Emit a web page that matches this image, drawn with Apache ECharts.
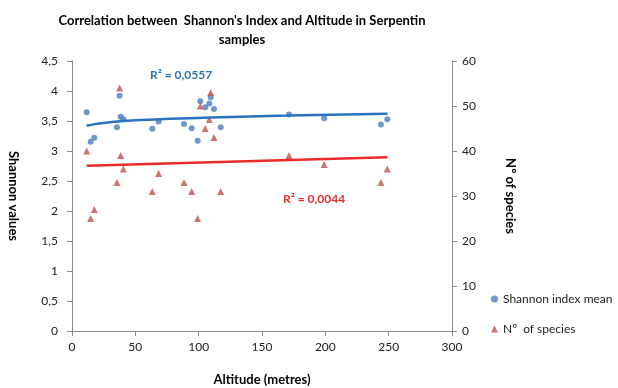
<!DOCTYPE html>
<html>
<head>
<meta charset="utf-8">
<script src="https://cdn.jsdelivr.net/npm/echarts@6/dist/echarts.min.js"></script>
<style>
  html, body { margin: 0; padding: 0; background: #fff; }
  #chart { width: 618px; height: 388px; }
</style>
</head>
<body>
<div id="chart"></div>
<script>
// altitude (m) of each sample
var altitude = [11.6, 14.7, 17.6, 35.5, 37.6, 38.4, 40.5, 63.4, 68.4, 88.4, 94.5, 99.2,
    101.3, 105.2, 108.4, 109.5, 112.1, 117.4, 171.3, 199.1, 243.9, 248.9];
// Shannon index mean (left axis)
var shannon = [3.645, 3.155, 3.22, 3.395, 3.92, 3.57, 3.53, 3.37, 3.49, 3.45, 3.38, 3.17,
    3.83, 3.73, 3.79, 3.895, 3.70, 3.395, 3.61, 3.545, 3.44, 3.53];
// Nº of species (right axis)
var species = [40, 25, 27, 33, 54, 39, 36, 31, 35, 33, 31, 25,
    50, 45, 47, 53, 43, 31, 39, 37, 33, 36];

// trend lines
var shannonTrendX = [11.6, 20, 40, 70, 110, 170, 249];
var shannonTrendY = [3.42, 3.455, 3.50, 3.53, 3.56, 3.59, 3.62];
var speciesTrendX = [11.6, 249];
var speciesTrendY = [36.7, 38.6];

var r2Shannon = 'R² = 0,0557';
var r2Species = 'R² = 0,0044';

var zip = function (xs, ys) {
    return xs.map(function (x, i) { return [x, ys[i]]; });
};

var font = 'Lato';
var comma = function (v) { return String(v).replace('.', ','); };

var chart = echarts.init(document.getElementById('chart'));

var option = {
    animation: false,
    textStyle: { fontFamily: font },
    title: {
        text: "Correlation between  Shannon's Index and Altitude in Serpentin\nsamples",
        left: 237,
        top: 6,
        textAlign: 'center',
        textStyle: { fontFamily: font, fontSize: 13, fontWeight: 'bold', color: '#000', lineHeight: 19 }
    },
    legend: {
        data: [
            { name: 'Shannon index mean', icon: 'circle' },
            { name: 'Nº  of species', icon: 'triangle' }
        ],
        orient: 'vertical',
        left: 486,
        top: 288,
        itemWidth: 7,
        itemHeight: 7,
        itemGap: 18,
        textStyle: { fontFamily: font, fontSize: 12, color: '#222' }
    },
    grid: { left: 72, right: 166, top: 61, bottom: 57, containLabel: false, outerBoundsMode: 'none' },
    xAxis: {
        type: 'value',
        min: 0, max: 300, interval: 50,
        name: 'Altitude (metres)',
        nameLocation: 'middle',
        nameGap: 42,
        nameTextStyle: { fontFamily: font, fontSize: 13, fontWeight: 'bold', color: '#000' },
        axisLine: { lineStyle: { color: '#8c8c8c' } },
        axisTick: { show: true, lineStyle: { color: '#8c8c8c' } },
        axisLabel: { color: '#222', fontSize: 12, margin: 10 },
        splitLine: { show: false }
    },
    yAxis: [{
        type: 'value',
        min: 0, max: 4.5, interval: 0.5,
        name: 'Shannon values',
        nameLocation: 'middle',
        nameRotate: -90,
        nameGap: 52,
        nameTextStyle: { fontFamily: font, fontSize: 13, fontWeight: 'bold', color: '#000' },
        axisLine: { show: true, lineStyle: { color: '#8c8c8c' } },
        axisTick: { show: true, lineStyle: { color: '#8c8c8c' } },
        axisLabel: { color: '#222', fontSize: 12, margin: 14, formatter: comma },
        splitLine: { show: false }
    }, {
        type: 'value',
        min: 0, max: 60, interval: 10,
        name: 'Nº of species',
        nameLocation: 'middle',
        nameRotate: -90,
        nameGap: 52,
        nameTextStyle: { fontFamily: font, fontSize: 13, fontWeight: 'bold', color: '#000' },
        axisLine: { show: true, lineStyle: { color: '#8c8c8c' } },
        axisTick: { show: true, lineStyle: { color: '#8c8c8c' } },
        axisLabel: { color: '#222', fontSize: 12, margin: 10 },
        splitLine: { show: false }
    }],
    graphic: [{
        type: 'text',
        left: 150, top: 69,
        style: { text: r2Shannon, fill: '#2e75b6', font: 'bold 12px ' + font }
    }, {
        type: 'text',
        left: 283, top: 193,
        style: { text: r2Species, fill: '#e8302f', font: 'bold 12px ' + font }
    }],
    series: [{
        name: 'Shannon index mean',
        type: 'scatter',
        yAxisIndex: 0,
        symbol: 'circle',
        symbolSize: 6,
        itemStyle: { color: '#4a7ebb' },
        data: zip(altitude, shannon),
        z: 3
    }, {
        name: 'Nº  of species',
        type: 'scatter',
        yAxisIndex: 1,
        symbol: 'triangle',
        symbolSize: 7,
        itemStyle: { color: '#c0504d' },
        data: zip(altitude, species),
        z: 3
    }, {
        name: 'shannon trend',
        type: 'line',
        yAxisIndex: 0,
        smooth: true,
        showSymbol: false,
        lineStyle: { color: '#2a72c0', width: 2.5 },
        data: zip(shannonTrendX, shannonTrendY),
        z: 4
    }, {
        name: 'species trend',
        type: 'line',
        yAxisIndex: 1,
        showSymbol: false,
        lineStyle: { color: '#ec2a2a', width: 2.5 },
        data: zip(speciesTrendX, speciesTrendY),
        z: 4
    }]
};

chart.setOption(option);

window.addEventListener('resize', function () {
    chart.resize();
});
</script>
</body>
</html>
